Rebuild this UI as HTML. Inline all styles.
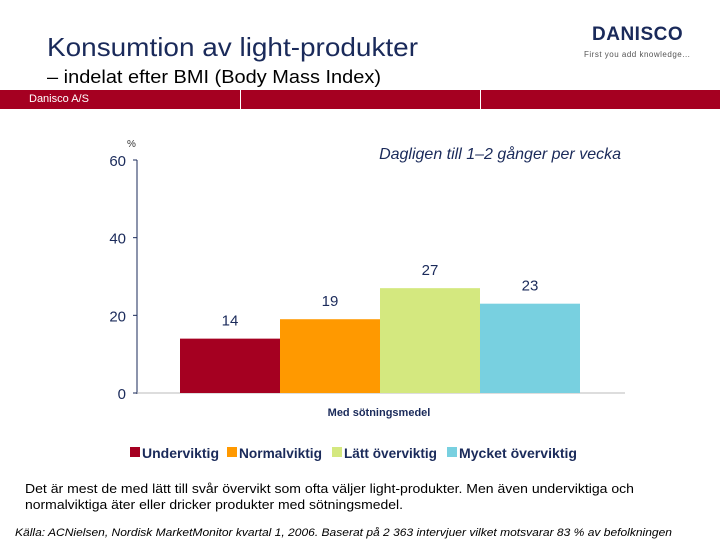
<!DOCTYPE html>
<html><head><meta charset="utf-8"><style>
body{margin:0;width:720px;height:540px;background:#fff;position:relative;overflow:hidden;font-family:"Liberation Sans",sans-serif;}
.abs{position:absolute;}
</style></head><body>
<div class="abs" style="left:592px;top:24px;font-size:19px;font-weight:bold;color:#1a2a5a;letter-spacing:0.5px;">DANISCO</div>
<div class="abs" style="left:584px;top:50px;font-size:8px;color:#555;letter-spacing:0.5px;">First you add knowledge...</div>
<div class="abs" style="left:0;top:90px;width:720px;height:19px;background:#a50021;"></div>
<div class="abs" style="left:29px;top:93px;font-size:11px;color:#fff;">Danisco A/S</div>
<div class="abs" style="left:240px;top:90px;width:1px;height:19px;background:#fff;"></div>
<div class="abs" style="left:480px;top:90px;width:1px;height:19px;background:#fff;"></div>
<svg class="abs" style="left:0;top:0" width="720" height="540">
<text x="47" y="56" font-size="26" fill="#1a2a5a" textLength="371" lengthAdjust="spacingAndGlyphs">Konsumtion av light-produkter</text>
<text x="47" y="83" font-size="18" fill="#000" textLength="334" lengthAdjust="spacingAndGlyphs">– indelat efter BMI (Body Mass Index)</text>
<text x="25" y="493" font-size="13" fill="#000" textLength="609" lengthAdjust="spacingAndGlyphs">Det är mest de med lätt till svår övervikt som ofta väljer light-produkter. Men även underviktiga och</text>
<text x="25" y="509" font-size="13" fill="#000" textLength="378" lengthAdjust="spacingAndGlyphs">normalviktiga äter eller dricker produkter med sötningsmedel.</text>
<text x="15" y="536" font-size="11" font-style="italic" fill="#000" textLength="657" lengthAdjust="spacingAndGlyphs">Källa: ACNielsen, Nordisk MarketMonitor kvartal 1, 2006. Baserat på 2 363  intervjuer vilket motsvarar 83 % av befolkningen</text>
<g id="g"></g>
</svg>
<script>
const categories=["Underviktig","Normalviktig","Lätt överviktig","Mycket överviktig"];
const values=[14,19,27,23];
const colors=["#a50021","#ff9900","#d4e87f","#78d0e0"];
const yTicks=[0,20,40,60];
const NS="http://www.w3.org/2000/svg";
const g=document.getElementById('g');
const y=v=>393-(v/60)*233;
const x0=180,bw=100;
const bx=i=>x0+i*bw;
function mk(t,a,txt){const e=document.createElementNS(NS,t);for(const k in a)e.setAttribute(k,a[k]);if(txt!==undefined)e.textContent=txt;g.appendChild(e);return e;}
let e=mk('line',{x1:137,y1:160,x2:137,y2:394,stroke:'#1a2a5a','stroke-width':1});


e=mk('line',{x1:137,y1:393,x2:625,y2:393,stroke:'#bbb','stroke-width':1});


yTicks.forEach(t=>{
 let l=mk('line',{x1:133,y1:y(t),x2:137,y2:y(t),stroke:'#1a2a5a'});
 
 
 let tx=mk('text',{x:126,y:y(t)+6,'text-anchor':'end','font-size':15,fill:'#1a2a5a'},t);
 
 
});
e=mk('text',{x:127,y:147,'font-size':10,fill:'#333'},'%');


e=mk('text',{x:621,y:159,'text-anchor':'end','font-size':16,'font-style':'italic',fill:'#1a2a5a'},'Dagligen till 1–2 gånger per vecka');


values.forEach((v,i)=>{
 let r=mk('rect',{x:bx(i),y:y(v),width:bw,height:393-y(v),fill:colors[i]});
 
 
 let t=mk('text',{x:bx(i)+bw/2,y:y(v)-13,'text-anchor':'middle','font-size':15,fill:'#1a2a5a'},v);
 
 
});
e=mk('text',{x:379,y:416,'text-anchor':'middle','font-size':11,'font-weight':'bold',fill:'#1a2a5a'},'Med sötningsmedel');


let lx=[130,227,332,447];
let lw=[77,83,93,118];
categories.forEach((c,i)=>{
 let r=mk('rect',{x:lx[i],y:447,width:10,height:10,fill:colors[i]});
 
 
 let t=mk('text',{x:lx[i]+12,y:458,'font-size':14,'font-weight':'bold',fill:'#1a2a5a',textLength:lw[i],lengthAdjust:'spacingAndGlyphs'},c);
 
 
});
</script>
</body></html>
